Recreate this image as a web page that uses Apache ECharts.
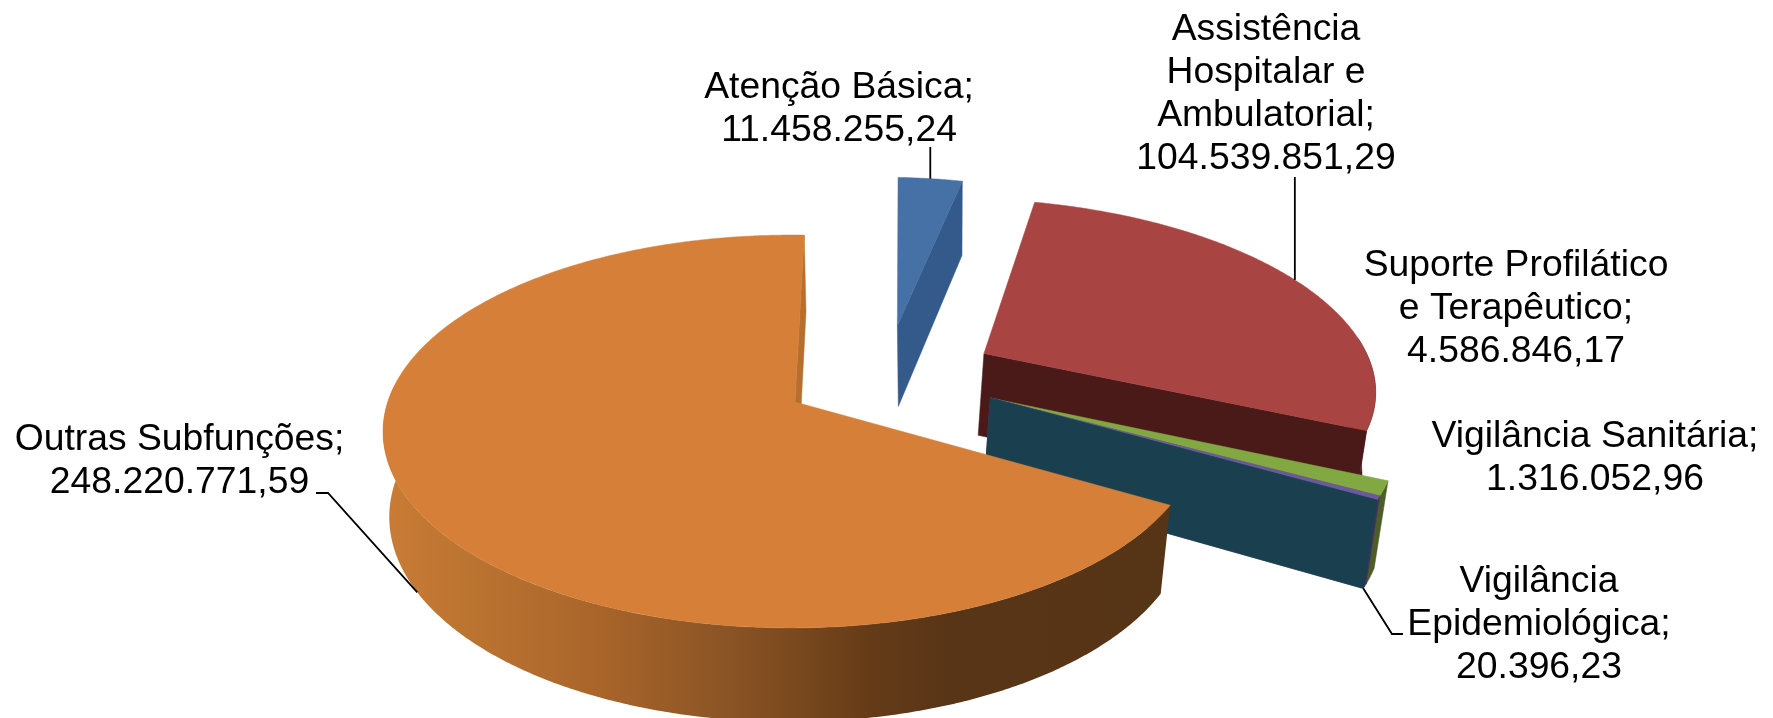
<!DOCTYPE html>
<html><head><meta charset="utf-8">
<style>html,body{margin:0;padding:0;background:#fff}#c{width:1773px;height:718px}</style>
<script src="https://cdn.jsdelivr.net/npm/echarts@6/dist/echarts.min.js"></script>
</head><body><div id="c"></div>
<script>
const categories = ['Atenção Básica;','Assistência\nHospitalar e\nAmbulatorial;','Suporte Profilático\ne Terapêutico;','Vigilância Sanitária;','Vigilância\nEpidemiológica;','Outras Subfunções;'];
const values = [11458255.24,104539851.29,4586846.17,1316052.96,20396.23,248220771.59];
const topColors = ['#4571A6','#A84442','#82A841','#6A5A9C','#1A4050','#D57F38'];
const wallColors = ['#335A8A','#4A1A18','#4C5E26','#3E3160','#1A4050','#B5702F'];

// projection of the tilted pie (layout constants)
const P = {x0:795,y0:402,A:404,B:192,k:0.15,m:0.008,botScale:0.98,botX:793,botY:486,botB:200.5,start:1.5};
// slice explosion in plane units (u, v), bottom-plane x nudge, rotation nudge in degrees, cut-face x nudge
const explode = [[.270,.423,5,.8,0],[.488,.264,0,0,0],[.487,.021,0,0,0],[.487,.021,0,0,0],[.487,.021,0,0,0],[0,0,0,0,4]];
// label layout: centre x, centre y of block, leader start pts, anchor on bottom rim?
const labelLayout = [
  {x:839,y:109,vertical:147,bottom:false},
  {x:1266,y:94,vertical:177,bottom:false},
  {x:1516,y:309,lead:null},
  {x:1595,y:458,lead:null},
  {x:1539,y:625,lead:[[1403,634],[1392,634]],bottom:true},
  {x:179.5,y:461,lead:[[316,493],[328,493]],bottom:true}
];
const total = values.reduce((a,b)=>a+b,0);
function fmt(v){
  const s=v.toFixed(2).split('.');
  return s[0].replace(/\B(?=(\d{3})+(?!\d))/g,'.')+','+s[1];
}
function proj(u,v,bottom,dx){
  const w=1+P.k*v+P.m*u;
  if(bottom) return [P.botX+(dx||0)+P.A*P.botScale*u/w, P.botY-P.botB*v/w];
  return [P.x0+P.A*u/w, P.y0-P.B*v/w];
}
function rimPt(off,deg,bottom,extra){
  const r=deg*Math.PI/180;
  return proj(off[0]+Math.sin(r),off[1]+Math.cos(r),bottom,off[2]+(extra||0));
}
function arc(off,a,b,bottom){
  const n=Math.max(1,Math.ceil(Math.abs(b-a)*2));
  const pts=[];
  for(let i=0;i<=n;i++) pts.push(rimPt(off,a+(b-a)*i/n,bottom));
  return pts;
}
const wallGradient = new echarts.graphic.LinearGradient(385,0,1170,0,[
  {offset:0,color:'#C97C35'},{offset:.1,color:'#BC7431'},{offset:.27,color:'#A9652A'},
  {offset:.42,color:'#8E5626'},{offset:.52,color:'#7A491E'},{offset:.62,color:'#643B18'},
  {offset:.72,color:'#583516'},{offset:1,color:'#563416'}],true);

function renderItem(params,api){
  const i=params.dataIndex, val=api.value(0);
  let before=0; for(let j=0;j<i;j++) before+=values[j];
  const off=explode[i];
  const a=P.start+off[3]+before/total*360, b=a+val/total*360;
  const kids=[];
  const poly=(pts,fill,sw)=>kids.push({type:'polygon',shape:{points:pts},
    style:{fill:fill,stroke:typeof fill==='string'?fill:null,lineWidth:sw===undefined?0.5:sw}});
  const radial=(deg)=>{
    const c0=proj(off[0],off[1],false),c1=proj(off[0],off[1],true,off[2]+off[4]);
    poly([c0,rimPt(off,deg,false),rimPt(off,deg,true,off[4]),c1],wallColors[i]);
  };
  const rs=Math.sin(a*Math.PI/180), re=Math.sin(b*Math.PI/180);
  if(rs<0) radial(a);
  if(re>0) radial(b);
  // outer rim: only the part that faces the viewer
  const ra=Math.max(a,85), rb=Math.min(b,275);
  if(rb>ra) poly(arc(off,ra,rb,false).concat(arc(off,rb,ra,true)), i===5?wallGradient:wallColors[i]);
  // top face
  poly([proj(off[0],off[1],false)].concat(arc(off,a,b,false)),topColors[i]);
  return {type:'group',children:kids};
}
function renderLabels(params,api){
  const i=params.dataIndex,val=api.value(0);
  let before=0; for(let j=0;j<i;j++) before+=values[j];
  const off=explode[i];
  const mid=P.start+off[3]+(before+val/2)/total*360;
  const L=labelLayout[i];
  const kids=[];
  if(L.lead||L.vertical){
    const end=rimPt(off,mid,L.bottom);
    const pts=(L.vertical?[[end[0],L.vertical]]:L.lead).concat([end]);
    kids.push({type:'polyline',shape:{points:pts},style:{stroke:'#000',lineWidth:1.8,fill:null}});
  }
  kids.push({type:'text',style:{text:categories[i]+'\n'+fmt(val),x:L.x,y:L.y,align:'center',verticalAlign:'middle',
    font:'37.3px "Liberation Sans", Arial, sans-serif',lineHeight:43,fill:'#000'}});
  return {type:'group',children:kids};
}
const data=values.map(v=>[v]);
const chart=echarts.init(document.getElementById('c'),null,{renderer:'canvas'});
chart.setOption({animation:false,backgroundColor:'#fff',
  series:[
    {type:'custom',coordinateSystem:'none',renderItem:renderItem,data:data,silent:true,z:1},
    {type:'custom',coordinateSystem:'none',renderItem:renderLabels,data:data,silent:true,z:2}
  ]});
</script></body></html>
